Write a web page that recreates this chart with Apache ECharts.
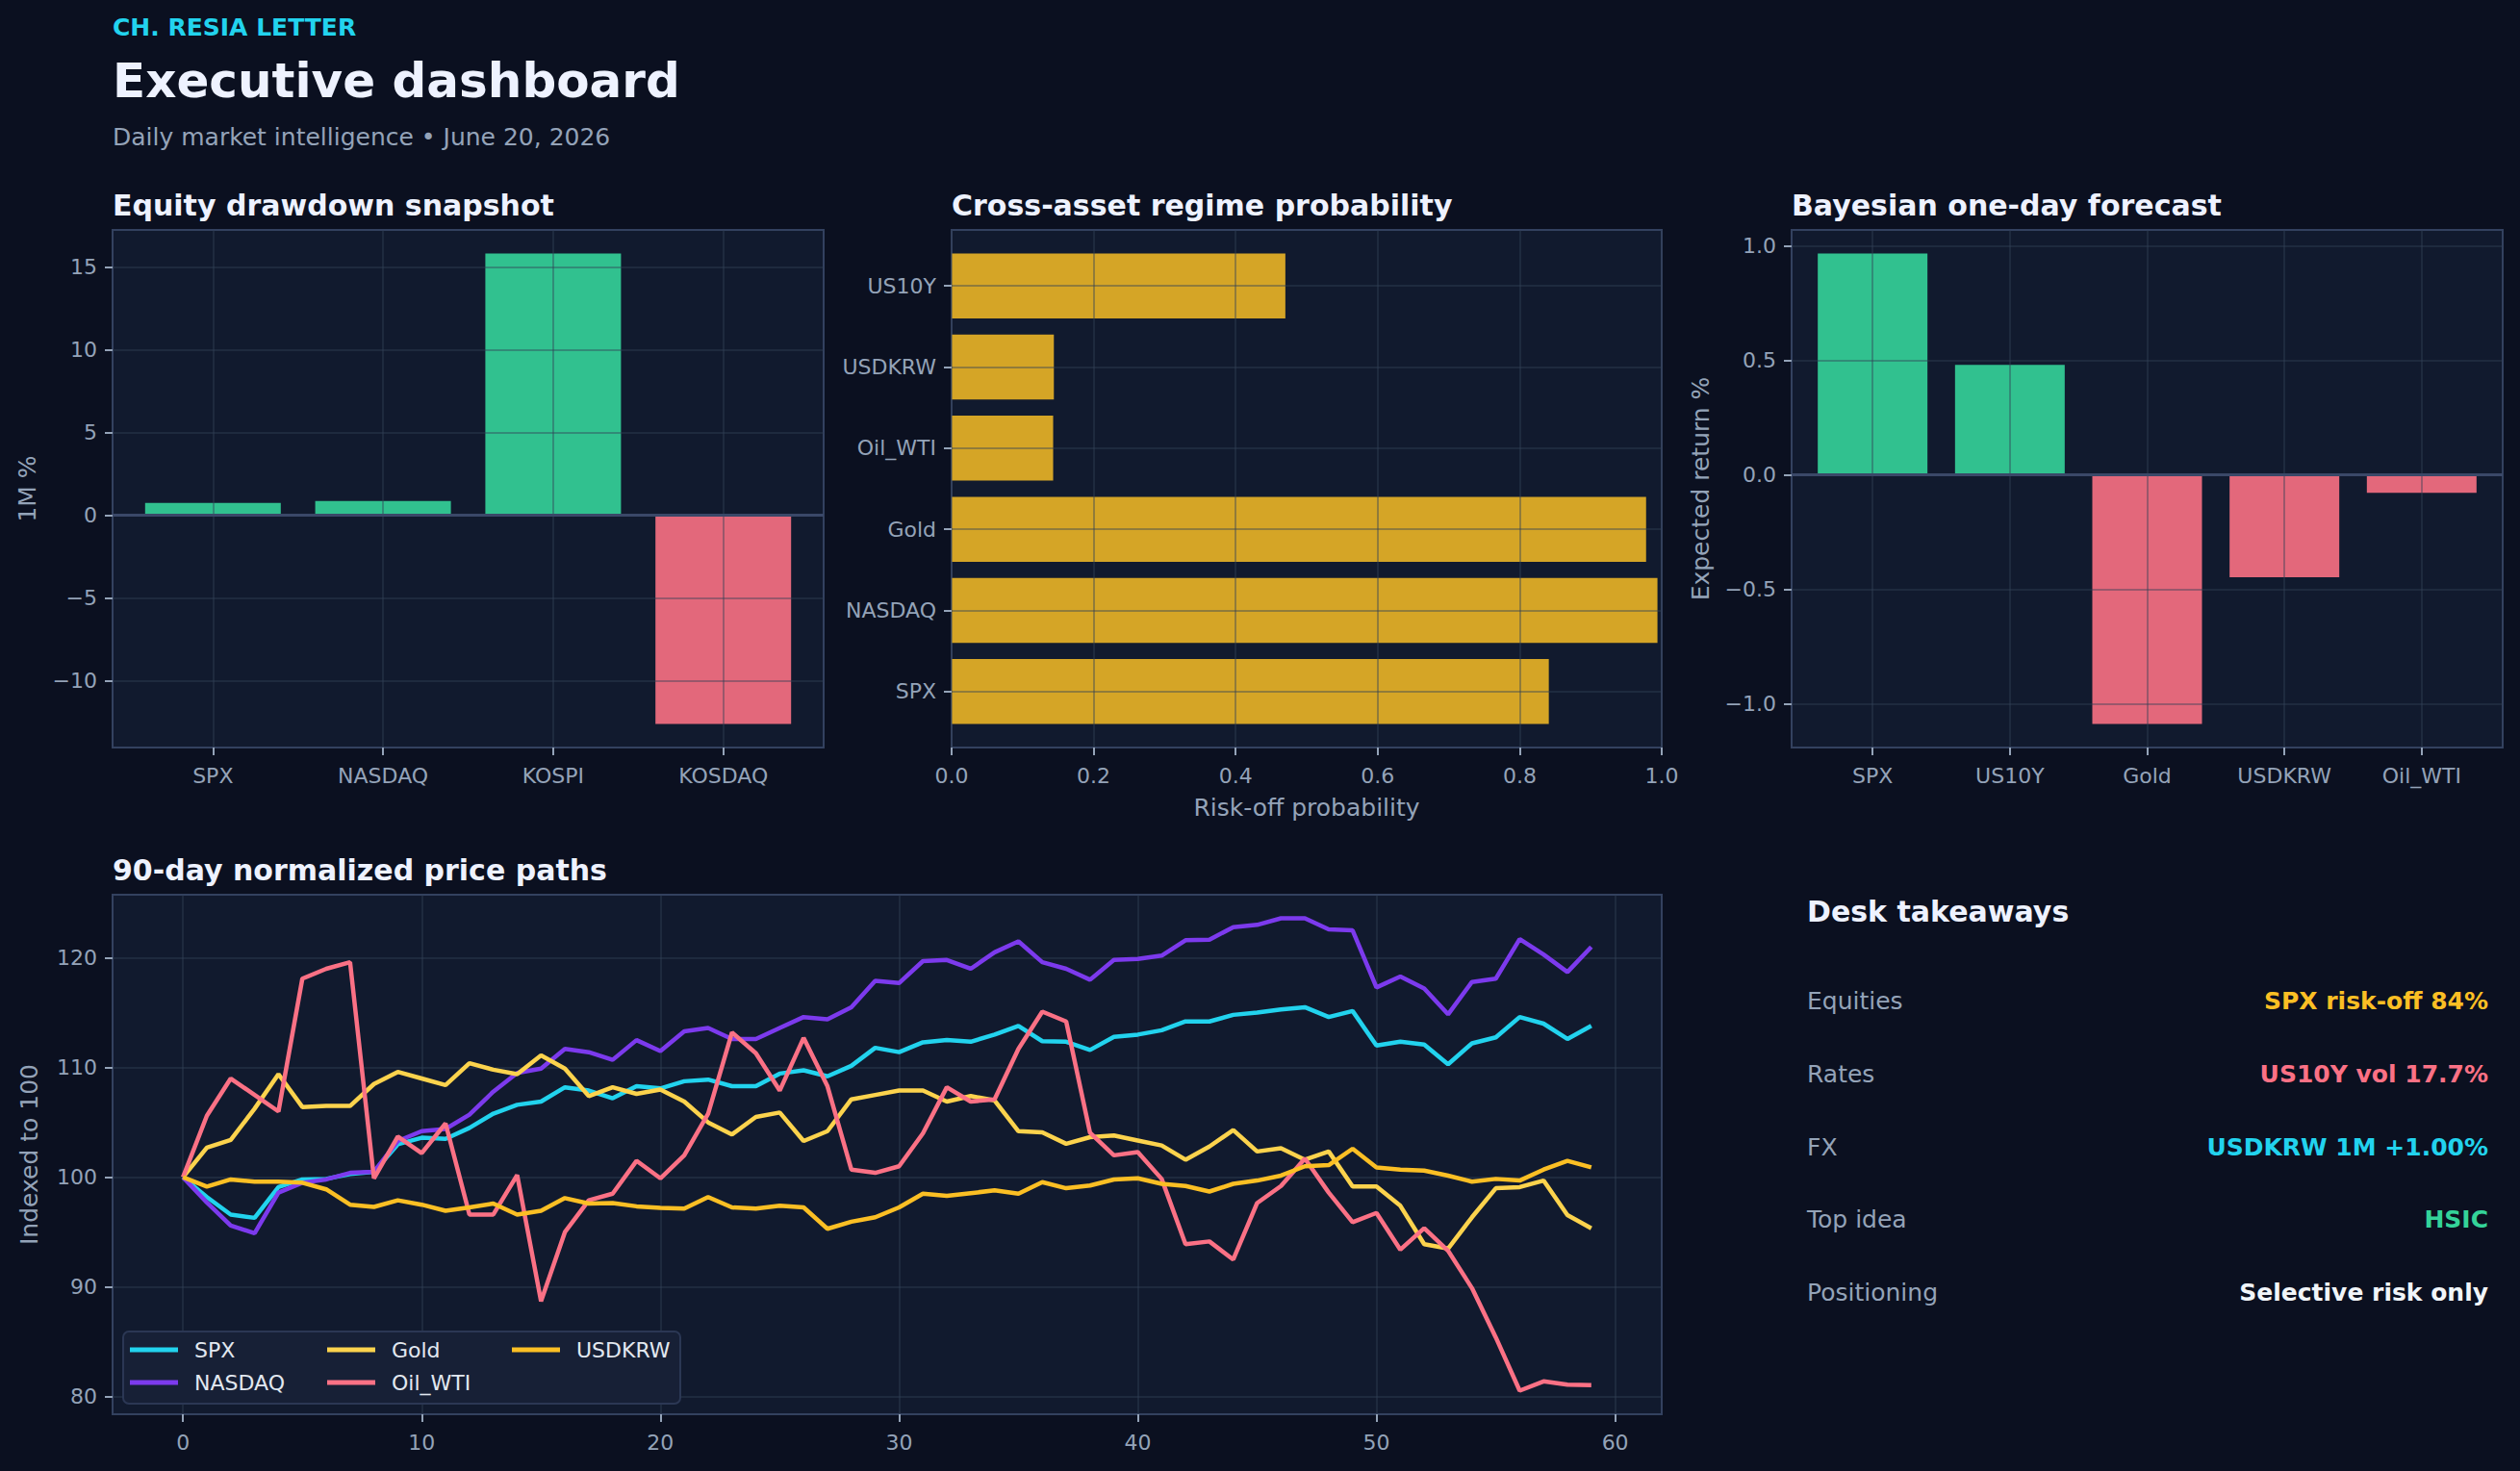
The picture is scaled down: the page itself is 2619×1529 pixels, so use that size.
<!DOCTYPE html>
<html>
<head>
<meta charset="utf-8">
<script src="https://cdn.jsdelivr.net/npm/echarts@6/dist/echarts.min.js"></script>
<style>
html,body{margin:0;padding:0;background:#0b1020;}
#chart{width:2619px;height:1529px;}
</style>
</head>
<body>
<div id="chart"></div>
<script>
// ---------- DATA ----------
const equityCats = ['SPX', 'NASDAQ', 'KOSPI', 'KOSDAQ'];
const equityChange = [0.74, 0.86, 15.83, -12.63];
const equityTicks = [-10, -5, 0, 5, 10, 15];

const regimeCats = ['SPX', 'NASDAQ', 'Gold', 'Oil_WTI', 'USDKRW', 'US10Y'];
const riskOffProb = [0.841, 0.994, 0.978, 0.143, 0.144, 0.470];
const probTicks = [0, 0.2, 0.4, 0.6, 0.8, 1.0];

const forecastCats = ['SPX', 'US10Y', 'Gold', 'USDKRW', 'Oil_WTI'];
const forecastRet = [0.966, 0.480, -1.089, -0.448, -0.079];
const forecastTicks = [-1.0, -0.5, 0, 0.5, 1.0];

const pathNames = ['SPX', 'NASDAQ', 'Gold', 'Oil_WTI', 'USDKRW'];
const spx = [100, 98.2, 96.6, 96.3, 99.1, 99.8, 99.85, 100.3, 100.5, 103.0,
  103.6, 103.5, 104.5, 105.8, 106.6, 106.9, 108.2, 107.9, 107.2, 108.3,
  108.1, 108.75, 108.9, 108.3, 108.3, 109.45, 109.75, 109.2, 110.15, 111.8,
  111.4, 112.3, 112.5, 112.35, 113.0, 113.8, 112.4, 112.35, 111.6, 112.8,
  113.0, 113.4, 114.2, 114.2, 114.8, 115.0, 115.3, 115.5, 114.6, 115.15,
  112.0, 112.35, 112.1, 110.3, 112.2, 112.75, 114.6, 114.0, 112.6, 113.8];
const nasdaq = [100, 97.7, 95.6, 94.9, 98.6, 99.5, 99.8, 100.4, 100.5, 103.3,
  104.2, 104.4, 105.7, 107.8, 109.5, 109.9, 111.7, 111.4, 110.7, 112.5,
  111.5, 113.3, 113.6, 112.6, 112.6, 113.6, 114.6, 114.4, 115.5, 117.9,
  117.7, 119.7, 119.8, 119.0, 120.5, 121.5, 119.6, 119.0, 118.0, 119.8,
  119.9, 120.2, 121.6, 121.65, 122.8, 123.0, 123.6, 123.6, 122.6, 122.5,
  117.3, 118.3, 117.2, 114.85, 117.8, 118.1, 121.7, 120.3, 118.7, 121.0];
const gold = [100, 102.7, 103.4, 106.25, 109.4, 106.4, 106.5, 106.5, 108.5, 109.6,
  109.0, 108.4, 110.4, 109.8, 109.4, 111.1, 109.9, 107.4, 108.2, 107.6,
  108.0, 106.9, 105.0, 103.9, 105.5, 105.9, 103.3, 104.2, 107.1, 107.5,
  107.9, 107.9, 106.9, 107.4, 107.0, 104.2, 104.1, 103.05, 103.65, 103.8,
  103.35, 102.9, 101.6, 102.8, 104.3, 102.35, 102.65, 101.6, 102.35, 99.15,
  99.15, 97.4, 93.9, 93.5, 96.35, 99.0, 99.1, 99.7, 96.55, 95.35];
const oilWti = [100, 105.6, 109.0, 107.5, 106.0, 118.1, 119.0, 119.6, 99.9, 103.7,
  102.2, 104.9, 96.6, 96.6, 100.2, 88.7, 95.0, 97.9, 98.5, 101.5,
  99.9, 102.0, 105.8, 113.2, 111.3, 107.9, 112.7, 108.3, 100.7, 100.4,
  101.0, 104.0, 108.2, 106.9, 107.1, 111.7, 115.1, 114.2, 104.05, 102.0,
  102.3, 99.85, 93.9, 94.15, 92.5, 97.65, 99.2, 101.7, 98.6, 95.9,
  96.75, 93.4, 95.35, 93.3, 89.9, 85.4, 80.55, 81.4, 81.1, 81.05];
const usdkrw = [100, 99.15, 99.8, 99.6, 99.6, 99.5, 98.9, 97.5, 97.3, 97.9,
  97.5, 96.95, 97.25, 97.6, 96.6, 96.95, 98.1, 97.6, 97.65, 97.35,
  97.2, 97.15, 98.2, 97.25, 97.15, 97.4, 97.25, 95.3, 95.95, 96.35,
  97.25, 98.5, 98.3, 98.55, 98.8, 98.5, 99.55, 99.0, 99.25, 99.8,
  99.9, 99.4, 99.2, 98.7, 99.4, 99.7, 100.15, 101.0, 101.1, 102.6,
  100.9, 100.7, 100.6, 100.15, 99.6, 99.85, 99.7, 100.7, 101.5, 100.9];
const pathXTicks = [0, 10, 20, 30, 40, 50, 60];
const pathYTicks = [80, 90, 100, 110, 120];

const takeawayLabels = ['Equities', 'Rates', 'FX', 'Top idea', 'Positioning'];
const takeawayValues = ['SPX risk-off 84%', 'US10Y vol 17.7%', 'USDKRW 1M +1.00%', 'HSIC', 'Selective risk only'];

// ---------- STYLE ----------
const FONT = '"DejaVu Sans", "Noto Sans", sans-serif';
const TXT = '#94a3b8';
const WHITE = '#eef2ff';
const GRIDC = 'rgba(51,65,85,0.42)';
const SPINE = '#33415f';
const PLOTBG = '#111a2e';
const POS = '#31c18f', NEG = '#e3687b', GOLDBAR = '#d5a526';
const pathColors = ['#22d3ee', '#7c3aed', '#fcd34d', '#fb7185', '#fbbf24'];
const takeawayColors = ['#fbbf24', '#fb7185', '#22d3ee', '#34d399', '#f1f5f9'];

const minusFmt = d => v => (v < 0 ? '\u2212' : '') + Math.abs(v).toFixed(d);

function mkAxis(gridIndex, min, max, ticks, fmt, o) {
  o = o || {};
  return {
    type: 'value', gridIndex, min, max, z: o.z || 0,
    name: o.name || '', nameLocation: 'middle', nameGap: o.nameGap || 0,
    nameTextStyle: {color: TXT, fontSize: 25, fontFamily: FONT},
    axisLine: {show: false, onZero: false},
    axisTick: {show: true, customValues: ticks, length: 8, lineStyle: {color: TXT, width: 2}},
    axisLabel: {customValues: ticks, formatter: fmt, color: TXT, fontSize: 22, fontFamily: FONT, margin: o.margin || 16},
    splitLine: {show: true, lineStyle: {color: GRIDC, width: 2}}
  };
}

const gridBoxes = [
  {left: 117, top: 239, width: 739, height: 538},
  {left: 989, top: 239, width: 738, height: 538},
  {left: 1862, top: 239, width: 739, height: 538},
  {left: 117, top: 930, width: 1610, height: 540}
];
const grids = gridBoxes.map(g => Object.assign({}, g, {
  show: true, backgroundColor: PLOTBG, borderColor: SPINE, borderWidth: 2,
  containLabel: false, outerBoundsMode: 'none'
}));

const zeroLine = {
  silent: true, symbol: 'none', label: {show: false},
  lineStyle: {color: '#3a4868', width: 3, type: 'solid'},
  data: [{yAxis: 0}]
};

function txt(text, x, y, size, color, bold, align) {
  return {type: 'text', x, y, z: 100, silent: true,
    style: {text, fill: color, fontSize: size, fontFamily: FONT, fontWeight: bold ? 'bold' : 'normal',
      align: align || 'left', verticalAlign: 'middle'}};
}

const graphics = [
  txt('CH. RESIA LETTER', 117, 28, 25, '#22d3ee', true),
  txt('Executive dashboard', 117, 84, 50, WHITE, true),
  txt('Daily market intelligence \u2022 June 20, 2026', 117, 142, 25, TXT, false),
  txt('Equity drawdown snapshot', 117, 213, 30, WHITE, true),
  txt('Cross-asset regime probability', 989, 213, 30, WHITE, true),
  txt('Bayesian one-day forecast', 1862, 213, 30, WHITE, true),
  txt('90-day normalized price paths', 117, 904, 30, WHITE, true),
  txt('Desk takeaways', 1878, 947, 30, WHITE, true),
  {type: 'rect', z: 50, silent: true, shape: {x: 128, y: 1384, width: 579, height: 75, r: 6},
    style: {fill: '#172036', stroke: '#2b3754', lineWidth: 2}}
];
const rowY = [1040, 1116, 1192, 1267, 1343];
takeawayLabels.forEach((l, i) => {
  graphics.push(txt(l, 1878, rowY[i], 25, TXT, false));
  graphics.push(txt(takeawayValues[i], 2586, rowY[i], 25, takeawayColors[i], true, 'right'));
});

const pathSeriesData = [spx, nasdaq, gold, oilWti, usdkrw];

function legendCol(left, names) {
  return {
    show: true, orient: 'vertical', left, top: 1391, padding: 0, itemGap: 10, z: 60,
    icon: 'rect', itemWidth: 50, itemHeight: 5, selectedMode: false,
    data: names,
    textStyle: {color: '#e2e8f0', fontSize: 22, fontFamily: FONT, lineHeight: 24, padding: [0, 0, 0, 12]}
  };
}

const option = {
  backgroundColor: '#0b1020',
  animation: false,
  textStyle: {fontFamily: FONT},
  grid: grids,
  graphic: graphics,
  legend: [
    legendCol(135, ['SPX', 'NASDAQ']),
    legendCol(340, ['Gold', 'Oil_WTI']),
    legendCol(532, ['USDKRW'])
  ],
  xAxis: [
    mkAxis(0, -0.59, 3.59, [0, 1, 2, 3], v => equityCats[Math.round(v)], {z: 3, margin: 18}),
    mkAxis(1, 0, 1, probTicks, v => v.toFixed(1), {z: 3, margin: 18, name: 'Risk-off probability', nameGap: 50}),
    mkAxis(2, -0.59, 4.59, [0, 1, 2, 3, 4], v => forecastCats[Math.round(v)], {z: 3, margin: 18}),
    mkAxis(3, -2.95, 61.95, pathXTicks, v => String(v), {margin: 18})
  ],
  yAxis: [
    mkAxis(0, -14.05, 17.25, equityTicks, minusFmt(0), {z: 3, name: '1M %', nameGap: 76}),
    mkAxis(1, -0.69, 5.69, [0, 1, 2, 3, 4, 5], v => regimeCats[Math.round(v)], {z: 3}),
    mkAxis(2, -1.192, 1.069, forecastTicks, minusFmt(1), {z: 3, name: 'Expected return %', nameGap: 82}),
    mkAxis(3, 78.4, 125.75, pathYTicks, v => String(v), {name: 'Indexed to 100', nameGap: 74})
  ],
  series: [
    {
      type: 'bar', xAxisIndex: 0, yAxisIndex: 0, barWidth: 141, silent: true,
      data: equityChange.map((v, i) => ({value: [i, v], itemStyle: {color: v >= 0 ? POS : NEG}})),
      markLine: zeroLine
    },
    {
      type: 'custom', xAxisIndex: 1, yAxisIndex: 1, silent: true,
      data: riskOffProb.map((p, i) => [p, i]),
      encode: {x: 0, y: 1},
      renderItem: (params, api) => {
        const idx = api.value(1);
        const s = api.coord([0, idx]);
        const e = api.coord([api.value(0), idx]);
        const h = api.size([0, 0.8])[1];
        return {type: 'rect', shape: {x: s[0], y: s[1] - h / 2, width: e[0] - s[0], height: h},
          style: {fill: GOLDBAR}};
      }
    },
    {
      type: 'bar', xAxisIndex: 2, yAxisIndex: 2, barWidth: 114, silent: true,
      data: forecastRet.map((v, i) => ({value: [i, v], itemStyle: {color: v >= 0 ? POS : NEG}})),
      markLine: zeroLine
    }
  ].concat(pathNames.map((n, k) => ({
    type: 'line', name: n, xAxisIndex: 3, yAxisIndex: 3, silent: true,
    showSymbol: false, symbol: 'none',
    data: pathSeriesData[k].map((v, i) => [i, v]),
    lineStyle: {width: 4.5, color: pathColors[k]},
    itemStyle: {color: pathColors[k]}
  })))
};

const chart = echarts.init(document.getElementById('chart'), null, {renderer: 'svg', width: 2619, height: 1529});
chart.setOption(option);
</script>
</body>
</html>
